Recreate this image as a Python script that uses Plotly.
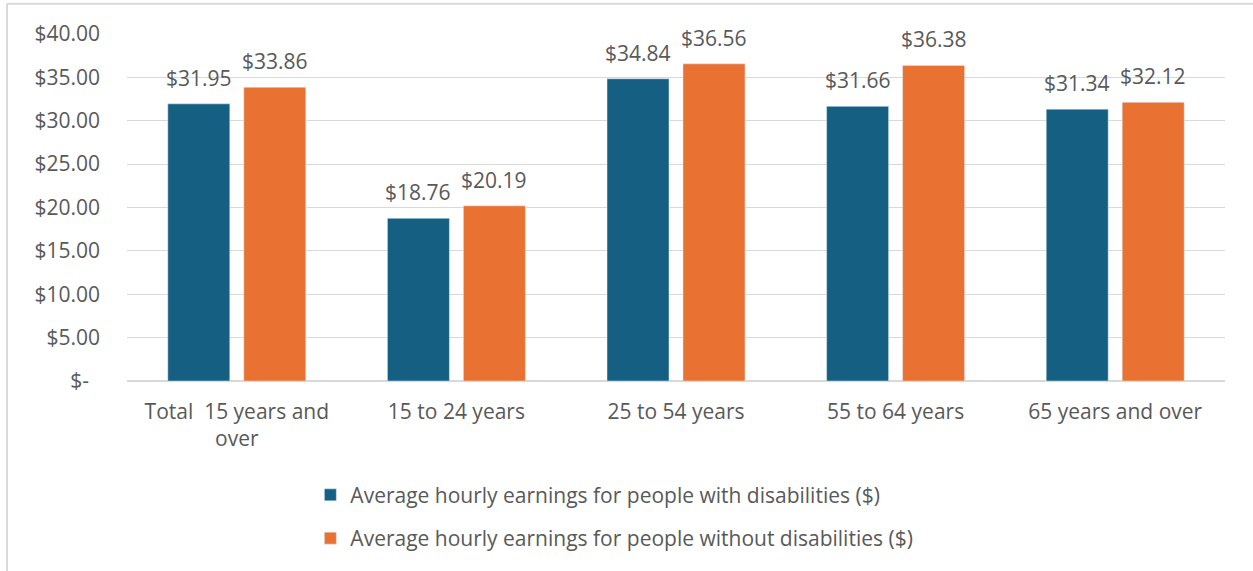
import plotly.graph_objects as go

# Age groups and average hourly earnings
categories = [
    "Total\u00a0\u00a015 years and<br>over",
    "15 to 24 years",
    "25 to 54 years",
    "55 to 64 years",
    "65 years and over",
]
with_disabilities = [31.95, 18.76, 34.84, 31.66, 31.34]
without_disabilities = [33.86, 20.19, 36.56, 36.38, 32.12]

series_names = [
    "Average hourly earnings for people with disabilities ($)",
    "Average hourly earnings for people without disabilities ($)",
]
tick_values = [0, 5, 10, 15, 20, 25, 30, 35, 40]
tick_labels = ["$-\u00a0\u00a0"] + [f"${v:.2f}" for v in tick_values[1:]]

BLUE = "#156082"
ORANGE = "#E97132"
TEXT = "#595959"
GRID = "#D9D9D9"
FONT = "Open Sans, Liberation Sans, Arial, sans-serif"
FS = 21

fig = go.Figure()
fig.add_trace(go.Bar(
    x=categories, y=with_disabilities, name=series_names[0],
    marker=dict(color=BLUE), legendgroup="a",
))
fig.add_trace(go.Bar(
    x=categories, y=without_disabilities, name=series_names[1],
    marker=dict(color=ORANGE), legendgroup="b",
))

# Value labels above each bar
annotations = []
for series, shift in ((with_disabilities, -38), (without_disabilities, 38)):
    for cat, val in zip(categories, series):
        annotations.append(dict(
            x=cat, y=val, xref="x", yref="y", text=f"${val:.2f}",
            showarrow=False, xshift=shift, yanchor="bottom", yshift=10,
            font=dict(family=FONT, size=FS, color=TEXT),
        ))

# Chart-area frame (left and top edges)
frame = dict(type="line", xref="paper", yref="paper",
             line=dict(color=GRID, width=2), layer="below")
shapes = [
    dict(frame, x0=-0.1093, x1=-0.1093, y0=1.087, y1=-0.6),
    dict(frame, x0=-0.1093, x1=1.1, y0=1.087, y1=1.087),
]

fig.update_layout(
    width=1253, height=571,
    margin=dict(l=127, r=28, t=34, b=190),
    paper_bgcolor="white", plot_bgcolor="white",
    barmode="group", bargap=0.308, bargroupgap=0.184,
    font=dict(family=FONT, size=FS, color=TEXT),
    showlegend=True,
    legend=dict(
        orientation="v", x=0.167, xanchor="left", y=-0.27, yanchor="top",
        tracegroupgap=13, font=dict(family=FONT, size=FS, color=TEXT),
        bgcolor="rgba(0,0,0,0)",
    ),
    annotations=annotations,
    shapes=shapes,
)
fig.update_xaxes(
    showgrid=False, showline=False, ticks="", ticklabelstandoff=16,
    tickfont=dict(family=FONT, size=FS, color=TEXT),
)
fig.update_yaxes(
    range=[0, 40], tickvals=tick_values, ticktext=tick_labels,
    showgrid=True, gridcolor=GRID, gridwidth=1,
    zeroline=True, zerolinecolor=GRID, zerolinewidth=2,
    showline=False, ticks="", ticklabelstandoff=26,
    tickfont=dict(family=FONT, size=FS, color=TEXT),
)

fig.write_html("out.html")
